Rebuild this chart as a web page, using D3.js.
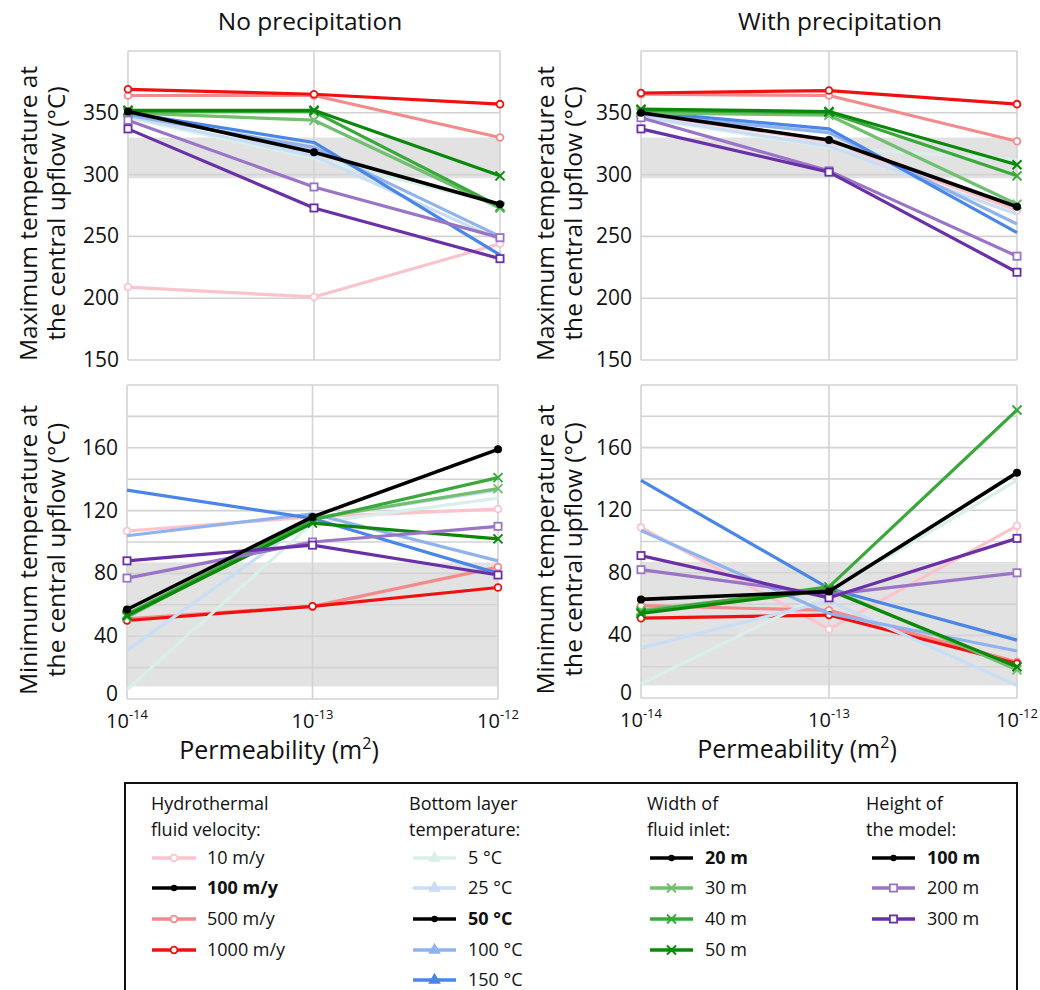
<!DOCTYPE html>
<html><head><meta charset="utf-8">
<script src="https://cdnjs.cloudflare.com/ajax/libs/d3/7.8.5/d3.min.js"></script>
<style>body{margin:0;background:#fff}svg{display:block;font-family:"Open Sans",sans-serif}</style>
</head><body><svg id="c" width="1040" height="990"></svg>
<script>
// ---- data ----
const permeability = [1e-14, 1e-13, 1e-12];
const xTickExp = ["-14", "-13", "-12"];
const seriesKeys = ["v10","v500","v1000","t5","t25","t100","t150","w30","w40","w50","h200","h300","base"];
const seriesColors = ["#fbc4cd","#f58a8c","#f01010","#d9f0ea","#c8ddf6","#90b2ee","#4a86e8","#72bf72","#3aa83a","#0b870b","#9a74c6","#6a30a8","#000000"];
const seriesMarkers = ["circleOpen","circleOpen","circleOpen","none","none","none","none","cross","cross","cross","squareOpen","squareOpen","dot"];

const maxNoPrecip = [
  [209,201,244],[364,364,330],[369,365,357],[346,313,276],[347,315,247],[348,322,250],[350,326,235],
  [350,344,273],[351,351,274],[352,352,299],[344,290,249],[337,273,232],[351,318,276]];
const maxWithPrecip = [
  [349,327,271],[365,364,327],[366,368,357],[346,322,312],[347,323,268],[349,334,260],[351,337,253],
  [350,348,276],[352,350,299],[353,351,308],[346,303,234],[337,302,221],[350,328,274]];
const minNoPrecip = [
  [107,116,121],[51,59,84],[50,59,71],[6,112,128],[31,115,133],[104,118,88],[133,115,80],
  [52,115,134],[54,114,141],[53,112,102],[77,100,110],[88,98,79],[57,116,159]];
const minWithPrecip = [
  [109,44,110],[59,56,23],[51,53,22],[9,68,139],[32,62,8],[107,54,30],[139,70,37],
  [56,70,18],[55,71,184],[54,69,20],[82,66,80],[91,64,102],[63,68,144]];

const bandMax = [297, 330];
const bandMin = [8, 87];
const maxTicks = [150,200,250,300,350];
const maxGrid = [150,200,250,300,350,400];
const minTicks = [0,40,80,120,160];
const minGrid = [0,20,40,60,80,100,120,140,160,180,200];

const panelTitles = ["No precipitation","With precipitation"];
const yTitleMax = ["Maximum temperature at","the central upflow (°C)"];
const yTitleMin = ["Minimum temperature at","the central upflow (°C)"];
const xTitle = "Permeability (m";

const legendTitles = [["Hydrothermal","fluid velocity:"],["Bottom layer","temperature:"],["Width of","fluid inlet:"],["Height of","the model:"]];
const legendLabels = [
  ["10 m/y","100 m/y","500 m/y","1000 m/y"],
  ["5 °C","25 °C","50 °C","100 °C","150 °C"],
  ["20 m","30 m","40 m","50 m"],
  ["100 m","200 m","300 m"]];
const legendColors = [
  ["#fbc4cd","#000","#f58a8c","#f01010"],
  ["#d9f0ea","#c8ddf6","#000","#90b2ee","#4a86e8"],
  ["#000","#72bf72","#3aa83a","#0b870b"],
  ["#000","#9a74c6","#6a30a8"]];
const legendMarkers = [
  ["circleOpen","dot","circleOpen","circleOpen"],
  ["tri","tri","dot","tri","tri"],
  ["dot","cross","cross","cross"],
  ["dot","squareOpen","squareOpen"]];
const legendBold = [[1],[2],[0],[0]];

// ---- drawing ----
const svg = d3.select("#c");
const panels = [
  {x0:128,x1:500,y0:51,y1:360,dom:[150,400],grid:maxGrid,ticks:maxTicks,data:maxNoPrecip,band:bandMax,tx:310},
  {x0:641,x1:1017,y0:51,y1:360,dom:[150,400],grid:maxGrid,ticks:maxTicks,data:maxWithPrecip,band:bandMax,tx:840},
  {x0:127,x1:498,y0:385,y1:699,dom:[0,200],grid:minGrid,ticks:minTicks,data:minNoPrecip,band:bandMin,tx:279},
  {x0:641,x1:1017,y0:385,y1:698,dom:[0,200],grid:minGrid,ticks:minTicks,data:minWithPrecip,band:bandMin,tx:797}
];

function drawMarker(g, type, x, y, color, s){
  s = s || 1;
  if(type==="circleOpen"){
    g.append("circle").attr("cx",x).attr("cy",y).attr("r",3.4*s).attr("fill","#fff").attr("stroke",color).attr("stroke-width",1.8);
  } else if(type==="dot"){
    g.append("circle").attr("cx",x).attr("cy",y).attr("r",4*s).attr("fill",color);
  } else if(type==="cross"){
    const d=4.5*s;
    g.append("path").attr("d",`M${x-d},${y-d}L${x+d},${y+d}M${x-d},${y+d}L${x+d},${y-d}`).attr("stroke",color).attr("stroke-width",2).attr("fill","none");
  } else if(type==="squareOpen"){
    const d=3.6*s;
    g.append("rect").attr("x",x-d).attr("y",y-d).attr("width",2*d).attr("height",2*d).attr("fill","#fff").attr("stroke",color).attr("stroke-width",1.8);
  } else if(type==="tri"){
    g.append("path").attr("transform",`translate(${x},${y})`).attr("d",d3.symbol(d3.symbolTriangle,70)()).attr("fill",color);
  }
}

panels.forEach((p,pi)=>{
  const x = d3.scaleLog().domain([1e-14,1e-12]).range([p.x0,p.x1]);
  const y = d3.scaleLinear().domain(p.dom).range([p.y1,p.y0]);
  const g = svg.append("g");
  // band
  g.append("rect").attr("x",p.x0).attr("width",p.x1-p.x0)
    .attr("y",y(p.band[1])).attr("height",y(p.band[0])-y(p.band[1])).attr("fill","#e2e2e2");
  // grid
  g.selectAll(".hg").data(p.grid).enter().append("line")
    .attr("x1",p.x0).attr("x2",p.x1).attr("y1",d=>y(d)).attr("y2",d=>y(d))
    .attr("stroke","#d3d3d3").attr("stroke-width",1.6);
  g.selectAll(".vg").data(permeability).enter().append("line")
    .attr("x1",d=>x(d)).attr("x2",d=>x(d)).attr("y1",p.y0).attr("y2",p.y1)
    .attr("stroke","#d3d3d3").attr("stroke-width",1.6);
  // y tick labels
  g.selectAll(".yt").data(p.ticks).enter().append("text")
    .attr("x",p.x0-9).attr("y",d=>y(d)+(d===0?2:7)).attr("text-anchor","end")
    .attr("font-size",21).attr("fill","#111").text(d=>d);
  // lines
  const line = d3.line().x((d,i)=>x(permeability[i])).y(d=>y(d));
  p.data.forEach((vals,si)=>{
    g.append("path").attr("d",line(vals)).attr("fill","none")
      .attr("stroke",seriesColors[si]).attr("stroke-width",si===12?3.6:3.2)
      .attr("stroke-linejoin","round");
    vals.forEach((v,i)=>drawMarker(g,seriesMarkers[si],x(permeability[i]),y(v),seriesColors[si],1));
  });
  // x tick labels for bottom panels
  if(pi>=2){
    permeability.forEach((d,i)=>{
      const t = g.append("text").attr("x",x(d)).attr("y",p.y1+29).attr("text-anchor","middle").attr("font-size",20).attr("fill","#111");
      t.append("tspan").text("10");
      t.append("tspan").attr("font-size",13).attr("dy",-9).text(xTickExp[i]);
    });
    const xt = g.append("text").attr("x",p.tx).attr("y",p.y1+60).attr("text-anchor","middle").attr("font-size",25).attr("fill","#111");
    xt.append("tspan").text(xTitle);
    xt.append("tspan").attr("font-size",16).attr("dy",-10).text("2");
    xt.append("tspan").attr("dy",10).text(")");
  }
  // y title
  const lines = pi<2 ? yTitleMax : yTitleMin;
  const bx = pi%2===0 ? [37,65] : [554,582];
  const cy = (p.y0+p.y1)/2 + 8;
  lines.forEach((s,li)=>{
    svg.append("text").attr("transform",`translate(${bx[li]},${cy}) rotate(-90)`)
      .attr("text-anchor","middle").attr("font-size",24.5).attr("fill","#111").text(s);
  });
  if(pi<2){
    svg.append("text").attr("x",p.tx).attr("y",30).attr("text-anchor","middle")
      .attr("font-size",24.5).attr("fill","#111").text(panelTitles[pi]);
  }
});

// ---- legend ----
const lg = svg.append("g");
lg.append("rect").attr("x",125).attr("y",783).attr("width",892).attr("height",220)
  .attr("fill","#fff").attr("stroke","#111").attr("stroke-width",2);
const colX = [151,409,647,866];
const lineX = [[152,196],[413,456],[650,693],[872,915]];
const labX = [207,468,705,927];
const itemY = [858,888,919,950,980];
legendTitles.forEach((tt,ci)=>{
  tt.forEach((s,li)=>{
    lg.append("text").attr("x",colX[ci]).attr("y",810+li*26).attr("font-size",18).attr("fill","#111").text(s);
  });
  legendLabels[ci].forEach((s,ii)=>{
    const yy = itemY[ii];
    const c = legendColors[ci][ii];
    lg.append("line").attr("x1",lineX[ci][0]).attr("x2",lineX[ci][1]).attr("y1",yy).attr("y2",yy)
      .attr("stroke",c).attr("stroke-width",3.5);
    drawMarker(lg,legendMarkers[ci][ii],(lineX[ci][0]+lineX[ci][1])/2,yy,c,legendMarkers[ci][ii]==="dot"?0.8:1);
    lg.append("text").attr("x",labX[ci]).attr("y",yy+6).attr("font-size",18)
      .attr("font-weight",legendBold[ci].includes(ii)?"bold":"normal").attr("fill","#111").text(s);
  });
});
</script></body></html>
